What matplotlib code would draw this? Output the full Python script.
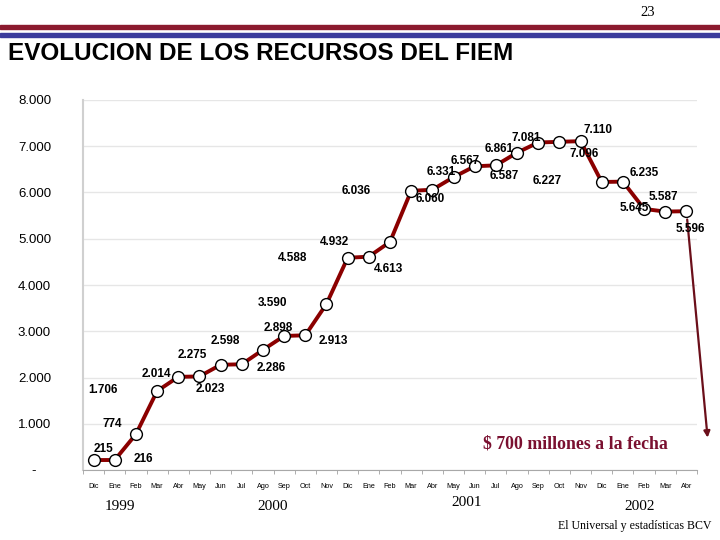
import matplotlib.pyplot as plt
from matplotlib.patches import Rectangle

# Data (millones de US$)
months = ["Dic", "Ene", "Feb", "Mar", "Abr", "May", "Jun", "Jul", "Ago", "Sep", "Oct", "Nov",
          "Dic", "Ene", "Feb", "Mar", "Abr", "May", "Jun", "Jul", "Ago", "Sep", "Oct", "Nov",
          "Dic", "Ene", "Feb", "Mar", "Abr"]
values = [215, 216, 774, 1706, 2014, 2023, 2275, 2286, 2598, 2898, 2913, 3590,
          4588, 4613, 4932, 6036, 6060, 6331, 6567, 6587, 6861, 7081, 7096, 7110,
          6227, 6235, 5645, 5587, 5596]
current_value = 700
years = ["1999", "2000", "2001", "2002"]
yticks = [0, 1000, 2000, 3000, 4000, 5000, 6000, 7000, 8000]
ytick_labels = ["-    ", "1.000", "2.000", "3.000", "4.000", "5.000", "6.000", "7.000", "8.000"]

# label offsets in pixels (dx, dy) from each point, as in the original slide
label_offsets = [(10, 11), (29, 1), (-24, 10), (-54, 1), (-22, 3), (11, -13), (-28, 10),
                 (29, -4), (-38, 9), (-6, 8), (28, -6), (-54, 1), (-55, 0), (20, -12),
                 (-55, 0), (-55, 0), (-2, -9), (-12, 5), (-10, 5), (8, -11), (-18, 4),
                 (-12, 5), (25, -12), (17, 11), (-55, 1), (21, 9), (-10, 1), (-2, 15), (4, -18)]

fig = plt.figure(figsize=(7.2, 5.4), dpi=100)

# header bars and title
fig.patches.append(Rectangle((0, 1 - 29 / 540), 1, 4 / 540, transform=fig.transFigure,
                             color="#8B1A2E", zorder=0))
fig.patches.append(Rectangle((0, 1 - 37 / 540), 1, 4 / 540, transform=fig.transFigure,
                             color="#3C3C9C", zorder=0))
fig.text(648 / 720, 1 - 12 / 540, "23", family="Liberation Serif", fontsize=10.5,
         ha="center", va="center")
fig.text(8 / 720, 1 - 54 / 540, "EVOLUCION DE LOS RECURSOS DEL FIEM",
         family="Liberation Sans", fontweight="bold", fontsize=17.5, ha="left", va="center")

ax = fig.add_axes([83 / 720, 70 / 540, 614 / 720, 370 / 540])
x = list(range(len(values)))

ax.plot(x, values, color="#8B0000", lw=2.8, marker="o", markersize=8.5,
        markerfacecolor="white", markeredgecolor="black", markeredgewidth=1, zorder=3)

# drop to current value
ax.annotate("", xy=(len(values), current_value), xytext=(x[-1], values[-1]),
            arrowprops=dict(arrowstyle="-|>", color="#6B0F1A", lw=1.6,
                            mutation_scale=9, shrinkA=6, shrinkB=0),
            annotation_clip=False, zorder=2)

for xi, v, (dx, dy) in zip(x, values, label_offsets):
    ax.annotate(f"{v:,}".replace(",", "."), (xi, v), xytext=(dx, dy),
                textcoords="offset pixels", ha="center", va="center",
                fontsize=8.5, fontweight="bold", family="Liberation Sans", zorder=4)

ax.set_xlim(-0.5, len(values) - 0.5)
ax.set_ylim(0, 8000)
ax.set_yticks(yticks)
ax.set_yticklabels(ytick_labels, family="Liberation Sans", fontsize=9.5)
ax.tick_params(axis="y", length=0, pad=23)
ax.set_xticks(x)
ax.set_xticklabels(months, family="Liberation Sans", fontsize=5.2)
ax.set_xticks([i - 0.5 for i in range(len(values) + 1)], minor=True)
ax.tick_params(axis="x", which="major", length=0, pad=9)
ax.tick_params(axis="x", which="minor", length=3, color="#A0A0A0")

ax.grid(axis="y", color="#E6E6E6", lw=1)
ax.set_axisbelow(True)
for s in ["top", "right"]:
    ax.spines[s].set_visible(False)
ax.spines["left"].set_color("#D0D0D0")
ax.spines["left"].set_linewidth(1.5)
ax.spines["bottom"].set_color("#A8A8A8")

ax.text(575 / 720, 1 - 444 / 540, "$ 700 millones a la fecha", transform=fig.transFigure,
        family="Liberation Serif", fontweight="bold", fontsize=12.8, color="#7A1030",
        ha="center", va="center")

year_pos = [(120, 506), (273, 506), (467, 502), (640, 506)]
for yr, (px, py) in zip(years, year_pos):
    fig.text(px / 720, 1 - py / 540, yr, family="Liberation Serif", fontsize=11,
             ha="center", va="center")

fig.text(712 / 720, 1 - 526 / 540, "El Universal y estadísticas BCV",
         family="Liberation Serif", fontsize=8.6, ha="right", va="center")

fig.savefig("out.png", dpi=100)
